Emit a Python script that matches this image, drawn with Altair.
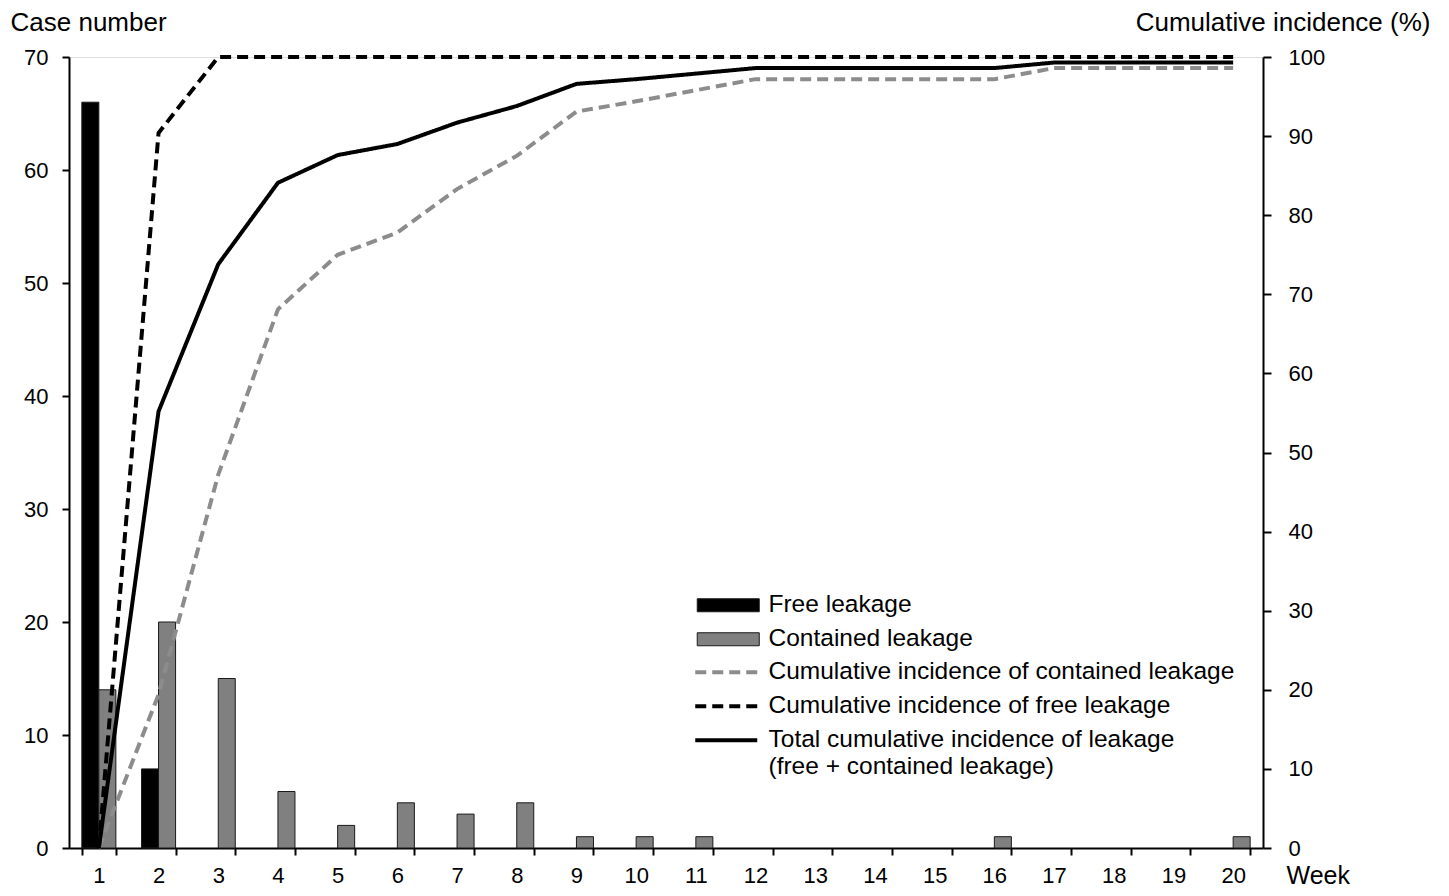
import altair as alt
import pandas as pd

weeks = [1, 2, 3, 4, 5, 6, 7, 8, 9, 10, 11, 12, 13, 14, 15, 16, 17, 18, 19, 20]
bar_types = ["Free leakage", "Contained leakage"]
free_cases = [66, 7, 0, 0, 0, 0, 0, 0, 0, 0, 0, 0, 0, 0, 0, 0, 0, 0, 0, 0]
contained_cases = [14, 20, 15, 5, 2, 4, 3, 4, 1, 1, 1, 0, 0, 0, 0, 1, 0, 0, 0, 1]

line_series = [
    "Cumulative incidence of contained leakage",
    "Cumulative incidence of free leakage",
    "Total cumulative incidence of leakage",
]
cum_contained = [0, 19.4, 47.2, 68.1, 75.0, 77.8, 83.3, 87.5, 93.1, 94.4, 95.8, 97.2,
                 97.2, 97.2, 97.2, 97.2, 98.6, 98.6, 98.6, 98.6]
cum_free = [0, 90.4, 100, 100, 100, 100, 100, 100, 100, 100, 100, 100,
            100, 100, 100, 100, 100, 100, 100, 100]
cum_total = [0, 55.2, 73.8, 84.1, 87.6, 89.0, 91.7, 93.8, 96.6, 97.2, 97.9, 98.6,
             98.6, 98.6, 98.6, 98.6, 99.3, 99.3, 99.3, 99.3]

FONT = "Liberation Sans"

bar_rows = []
for w, f, c in zip(weeks, free_cases, contained_cases):
    if f > 0:
        bar_rows.append({"week": w, "type": bar_types[0], "cases": f})
    if c > 0:
        bar_rows.append({"week": w, "type": bar_types[1], "cases": c})
bar_df = pd.DataFrame(bar_rows)

line_rows = []
for name, vals in zip(line_series, [cum_contained, cum_free, cum_total]):
    for w, v in zip(weeks, vals):
        line_rows.append({"week": w, "series": name, "pct": v})
line_df = pd.DataFrame(line_rows)

axis_common = dict(
    domainColor="black", domainWidth=2, tickColor="black", tickWidth=2,
    labelColor="black", titleColor="black", labelFont=FONT, titleFont=FONT,
    labelFontSize=22, titleFontSize=26, titleFontWeight="normal", grid=False,
    titleAngle=0,
)

x_axis_opts = dict(axis_common)
x_axis_opts["titleFontSize"] = 25
x_axis = alt.Axis(
    title="Week", titleAlign="left", titleX=1217, titleY=27, titleBaseline="middle",
    labelAngle=0, tickBand="extent", tickSize=7, labelPadding=10, **x_axis_opts
)
left_axis = alt.Axis(
    title="Case number", values=[0, 10, 20, 30, 40, 50, 60, 70],
    titleAlign="left", titleX=-59, titleY=-35, titleBaseline="middle",
    tickSize=7, labelPadding=14, **axis_common
)
right_axis = alt.Axis(
    orient="right", title="Cumulative incidence (%)",
    values=[0, 10, 20, 30, 40, 50, 60, 70, 80, 90, 100],
    titleAlign="right", titleX=167, titleY=-35, titleBaseline="middle",
    tickSize=8, labelPadding=17, **axis_common
)

bar_legend = alt.Legend(
    title=None, orient="none", legendX=631, legendY=536,
    symbolType="M-4.77,-1H4.77V1H-4.77Z", symbolSize=169, symbolOffset=16,
    labelOffset=28, labelFontSize=24.5, labelFont=FONT, labelColor="black",
    rowPadding=9, symbolStrokeColor="#1a1a1a", symbolStrokeWidth=1, padding=0,
    labelLimit=700,
)
label_expr = ("datum.label == 'Total cumulative incidence of leakage' ? "
              "['Total cumulative incidence of leakage', '(free + contained leakage)'] : datum.label")
line_legend = alt.Legend(
    title=None, orient="none", legendX=631, legendY=603,
    symbolType="M-4.77,0H4.77", symbolSize=169, symbolStrokeWidth=4,
    symbolOffset=14, labelOffset=30, labelFontSize=24.5, labelFont=FONT,
    labelColor="black", rowPadding=9, padding=0, labelLimit=700,
    labelExpr=label_expr,
)

bars = alt.Chart(bar_df).mark_bar(stroke="#1a1a1a", strokeWidth=1).encode(
    x=alt.X("week:O", scale=alt.Scale(domain=weeks, paddingInner=0.43, paddingOuter=0.215),
            axis=x_axis),
    xOffset=alt.XOffset("type:N", scale=alt.Scale(domain=bar_types, paddingInner=0, paddingOuter=0)),
    y=alt.Y("cases:Q", scale=alt.Scale(domain=[0, 70]), axis=left_axis),
    color=alt.Color("type:N", scale=alt.Scale(domain=bar_types, range=["#000000", "#808080"]),
                    legend=bar_legend),
)

lines = alt.Chart(line_df).mark_line(strokeWidth=4).encode(
    x=alt.X("week:O"),
    y=alt.Y("pct:Q", scale=alt.Scale(domain=[0, 100]), axis=right_axis),
    stroke=alt.Stroke("series:N", scale=alt.Scale(domain=line_series,
                                                  range=["#8c8c8c", "#000000", "#000000"]),
                      legend=line_legend),
    strokeDash=alt.StrokeDash("series:N", scale=alt.Scale(domain=line_series,
                                                          range=[[11, 6], [11, 6], [1, 0]]),
                              legend=line_legend),
)

chart = alt.layer(bars, lines).resolve_scale(y="independent").properties(
    width=1194, height=791,
    autosize=alt.AutoSizeParams(type="none"),
    padding={"left": 61, "top": 49, "right": 178, "bottom": 40},
).configure_view(stroke=None).configure(font=FONT)

chart.save("out.html", embed_options={"renderer": "svg", "actions": False})
